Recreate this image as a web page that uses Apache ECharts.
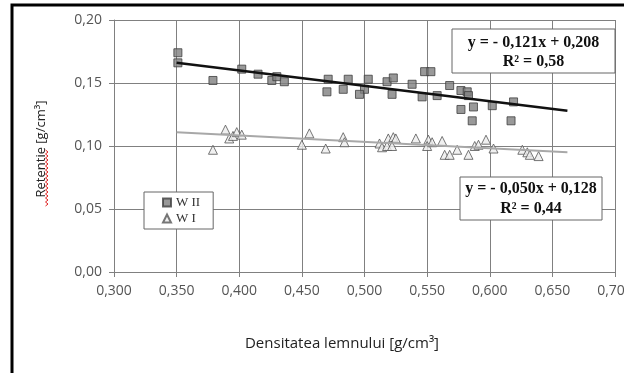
<!DOCTYPE html>
<html>
<head>
<meta charset="utf-8">
<script src="https://cdn.jsdelivr.net/npm/echarts@6/dist/echarts.min.js"></script>
<style>
  html, body { margin: 0; padding: 0; background: #fff; }
  #chart { width: 624px; height: 373px; }
</style>
</head>
<body>
<div id="chart"></div>
<script>
// W II (squares)
const wiiDensity = [0.351, 0.351, 0.379, 0.402, 0.415, 0.426, 0.430, 0.436, 0.471, 0.470, 0.487, 0.483, 0.503, 0.500, 0.496, 0.518, 0.523, 0.522, 0.538, 0.546, 0.548, 0.553, 0.558, 0.568, 0.577, 0.582, 0.583, 0.577, 0.587, 0.586, 0.602, 0.619, 0.617];
const wiiRetention = [0.174, 0.166, 0.152, 0.161, 0.157, 0.152, 0.155, 0.151, 0.153, 0.143, 0.153, 0.145, 0.153, 0.145, 0.141, 0.151, 0.154, 0.141, 0.149, 0.139, 0.159, 0.159, 0.140, 0.148, 0.144, 0.143, 0.140, 0.129, 0.131, 0.120, 0.132, 0.135, 0.120];
// W I (triangles)
const wiDensity = [0.379, 0.389, 0.392, 0.395, 0.398, 0.402, 0.450, 0.456, 0.469, 0.483, 0.484, 0.512, 0.514, 0.518, 0.519, 0.523, 0.525, 0.522, 0.541, 0.551, 0.550, 0.554, 0.562, 0.564, 0.568, 0.574, 0.583, 0.588, 0.591, 0.597, 0.603, 0.626, 0.630, 0.632, 0.639];
const wiRetention = [0.097, 0.113, 0.106, 0.108, 0.111, 0.109, 0.101, 0.110, 0.098, 0.107, 0.103, 0.102, 0.099, 0.100, 0.106, 0.107, 0.106, 0.100, 0.106, 0.105, 0.100, 0.103, 0.104, 0.093, 0.093, 0.097, 0.093, 0.100, 0.101, 0.105, 0.098, 0.097, 0.095, 0.093, 0.092];
// trend line end points
const trendWiiX = [0.350, 0.662];
const trendWiiY = [0.166, 0.128];
const trendWiX = [0.350, 0.662];
const trendWiY = [0.111, 0.095];

const seriesNames = ['W II', 'W I'];
const equations = ['y = - 0,121x + 0,208\nR² = 0,58', 'y = - 0,050x + 0,128\nR² = 0,44'];

const zip = (xs, ys) => xs.map((x, i) => [x, ys[i]]);
const comma = (v, d) => v.toFixed(d).replace('.', ',');

const gridColor = '#808080';
const labelColor = '#555';

// red spell-check squiggle under "Retentie"
const squiggle = [];
for (let i = 0; i <= 28; i++) squiggle.push([i % 2 ? 48 : 45.5, 206 - i * 2]);

// boxed equation label
const eqBox = (x, y, w, h, textY, lh, text) => ({
  type: 'group', z: 100, children: [
    { type: 'rect', z: 100, shape: { x, y, width: w, height: h },
      style: { fill: '#fff', stroke: '#666', lineWidth: 1 } },
    { type: 'text', z: 101, x: x + w / 2, y: textY,
      style: { text, align: 'center', verticalAlign: 'top', lineHeight: lh,
               font: 'bold 16px "Liberation Serif"', fill: '#111' } }
  ]
});

const chart = echarts.init(document.getElementById('chart'));
chart.setOption({
  animation: false,
  backgroundColor: '#fff',
  grid: { left: 114, right: 9, top: 20, bottom: 101, outerBoundsMode: 'none' },
  legend: {
    orient: 'vertical',
    left: 144, top: 192,
    padding: [4, 13, 4, 18],
    itemGap: 3, itemWidth: 8, itemHeight: 8,
    backgroundColor: '#fff',
    borderColor: '#666', borderWidth: 1, borderRadius: 0,
    textStyle: { fontFamily: 'Liberation Serif', fontSize: 13, color: '#333' },
    data: [{ name: seriesNames[0], icon: 'rect' }, { name: seriesNames[1], icon: 'triangle' }]
  },
  xAxis: {
    type: 'value', min: 0.3, max: 0.7, interval: 0.05,
    name: 'Densitatea lemnului [g/cm³]', nameLocation: 'middle', nameGap: 64,
    nameTextStyle: { fontFamily: 'Open Sans', fontSize: 15, color: '#222', padding: [0, 45, 0, 0] },
    axisLine: { lineStyle: { color: gridColor } },
    axisTick: { show: true, inside: false, length: 5, lineStyle: { color: gridColor } },
    axisLabel: { formatter: v => comma(v, 3), fontFamily: 'Open Sans', fontSize: 14, color: labelColor, margin: 12 },
    splitLine: { show: true, lineStyle: { color: gridColor, width: 1 } }
  },
  yAxis: {
    type: 'value', min: 0, max: 0.2, interval: 0.05,
    name: 'Retentie [g/cm³]', nameLocation: 'middle', nameGap: 66, nameRotate: 90,
    nameTextStyle: { fontFamily: 'Open Sans', fontSize: 13, color: '#222', padding: [0, 6, 0, 0] },
    axisLine: { show: true, lineStyle: { color: gridColor } },
    axisTick: { show: true, inside: false, length: 5, lineStyle: { color: gridColor } },
    axisLabel: { formatter: v => comma(v, 2), fontFamily: 'Open Sans', fontSize: 14, color: labelColor, margin: 12 },
    splitLine: { show: true, lineStyle: { color: gridColor, width: 1 } }
  },
  series: [
    {
      name: seriesNames[0], type: 'scatter', symbol: 'rect', symbolSize: 8, z: 3,
      itemStyle: { color: '#7f7f7f', borderColor: '#3f3f3f', borderWidth: 1 },
      data: zip(wiiDensity, wiiRetention)
    },
    {
      name: seriesNames[1], type: 'scatter', symbol: 'triangle', symbolSize: 9, z: 3,
      itemStyle: { color: '#ececec', borderColor: '#555', borderWidth: 1 },
      data: zip(wiDensity, wiRetention)
    },
    {
      name: 'trend W II', type: 'line', symbol: 'none', z: 4, silent: true,
      lineStyle: { color: '#111', width: 2.5 },
      data: zip(trendWiiX, trendWiiY)
    },
    {
      name: 'trend W I', type: 'line', symbol: 'none', z: 4, silent: true,
      lineStyle: { color: '#a8a8a8', width: 2 },
      data: zip(trendWiX, trendWiY)
    }
  ],
  graphic: [
    { type: 'rect', z: 100, shape: { x: 12, y: 5, width: 700, height: 500 },
      style: { fill: 'none', stroke: '#000', lineWidth: 3 } },
    { type: 'polyline', z: 100, shape: { points: squiggle },
      style: { fill: 'none', stroke: '#e02020', lineWidth: 1 } },
    eqBox(452, 29, 163, 44, 33, 19, equations[0]),
    eqBox(460, 177, 142, 43, 179, 20, equations[1])
  ]
});
</script>
</body>
</html>
